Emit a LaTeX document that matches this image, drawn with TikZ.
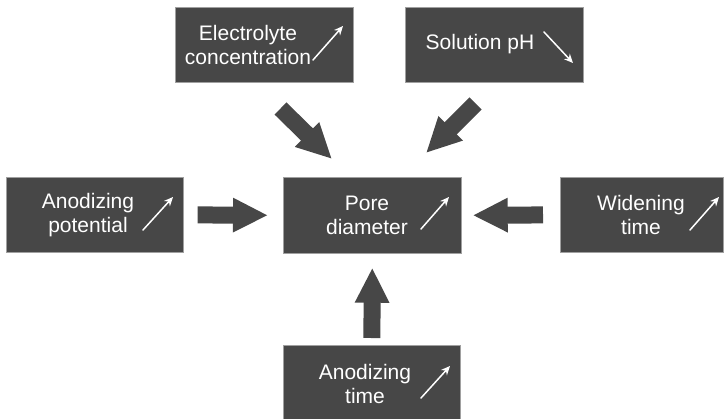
\documentclass[tikz,border=0pt]{standalone}
\usepackage{fontspec}
\setmainfont{Liberation Sans}
\usetikzlibrary{arrows.meta}
\definecolor{boxgray}{HTML}{474747}
\definecolor{edgegray}{HTML}{A0A0A0}
\begin{document}
\begin{tikzpicture}[x=1pt,y=-1pt,
  factor/.style={draw=edgegray, line width=0.7pt, fill=boxgray, inner sep=0pt, anchor=north west},
  lbl/.style={text=white, font=\fontsize{21}{24}\selectfont, align=center, inner sep=0pt},
  trend/.style={white, line width=1.5pt, line cap=round, -{Stealth[length=9pt,width=8pt]}},
  fat/.style={draw=boxgray, line width=17pt, -{Triangle[width=32pt,length=35pt]}}]
\useasboundingbox (0,0) rectangle (726,418);
\clip (0,0) rectangle (726,418);
% boxes
\node[factor, minimum width=178pt, minimum height=75pt] (elec) at (175,7) {};
\node[factor, minimum width=178pt, minimum height=75pt] (ph) at (405,7) {};
\node[factor, minimum width=177pt, minimum height=75pt] (pot) at (6,177) {};
\node[factor, minimum width=178pt, minimum height=76pt] (pore) at (283,177) {};
\node[factor, minimum width=163pt, minimum height=75pt] (wid) at (560,177) {};
\node[factor, minimum width=177pt, minimum height=80pt] (atime) at (283,345) {};
% labels
\node[lbl] (elecT) at (248,45) {Electrolyte\\concentration};
\node[lbl] (phT) at (480,44) {Solution pH};
\node[lbl] (potT) at (88,215) {Anodizing\\potential};
\node[lbl] (poreT) at (367,215) {Pore\\diameter};
\node[lbl] (widT) at (641,215) {Widening\\time};
\node[lbl] (atimeT) at (365,384) {Anodizing\\time};
% trend arrows
\draw[trend] ([shift={(138,53)}]elec.north west) -- ([shift={(168,19)}]elec.north west);
\draw[trend] ([shift={(139,25)}]ph.north west) -- ([shift={(168,56)}]ph.north west);
\draw[trend] ([shift={(137,53)}]pot.north west) -- ([shift={(167,20)}]pot.north west);
\draw[trend] ([shift={(138,52)}]pore.north west) -- ([shift={(166,20)}]pore.north west);
\draw[trend] ([shift={(130,53)}]wid.north west) -- ([shift={(159,20)}]wid.north west);
\draw[trend] ([shift={(138,53)}]atime.north west) -- ([shift={(167,21)}]atime.north west);
% block arrows
\coordinate (eS) at (280.5,108.5); \coordinate (eE) at (332,159);
\coordinate (pS) at (475.5,103.5); \coordinate (pE) at (426,153);
\draw[fat, shorten <=14pt, shorten >=15pt] (pot.east) -- (pore.west);
\draw[fat, shorten <=17pt, shorten >=11pt] (wid.west) -- (pore.east);
\draw[fat, shorten <=7pt, shorten >=14pt] (atime.north) -- (pore.south);
\draw[fat] (eS) -- (eE);
\draw[fat] (pS) -- (pE);
\end{tikzpicture}
\end{document}
